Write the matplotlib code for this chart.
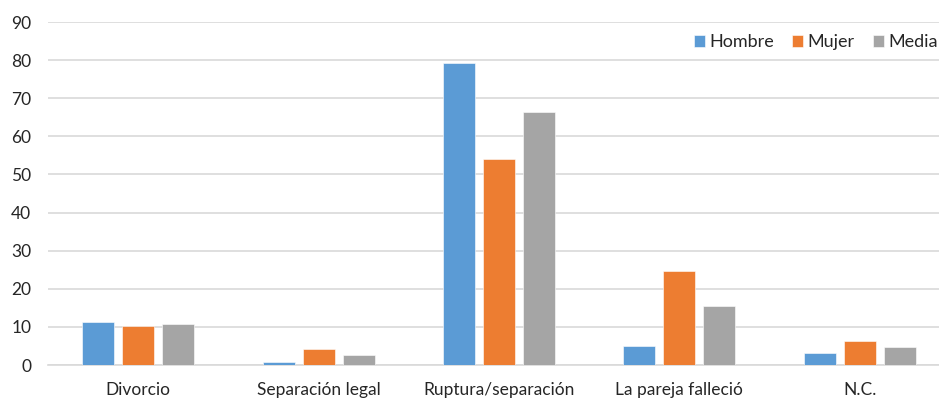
import matplotlib.pyplot as plt
import numpy as np

plt.rcParams['font.family'] = ['Lato', 'DejaVu Sans']

categories = ['Divorcio', 'Separación legal', 'Ruptura/separación', 'La pareja falleció', 'N.C.']
hombre = [11.3, 0.8, 79.3, 5.1, 3.1]
mujer = [10.2, 4.2, 54.0, 24.6, 6.2]
media = [10.7, 2.5, 66.3, 15.5, 4.7]

series = [('Hombre', hombre, '#5B9BD5'),
          ('Mujer', mujer, '#ED7D31'),
          ('Media', media, '#A5A5A5')]

fig = plt.figure(figsize=(9.39, 3.98), dpi=100)
ax = fig.add_axes([0.0511, 0.0829, 0.9606, 0.8618])

x = np.arange(len(categories))
width = 0.177
step = 0.222
for i, (name, vals, color) in enumerate(series):
    ax.bar(x + (i - 1) * step, vals, width, color=color, label=name,
           edgecolor='white', linewidth=0.4, zorder=3)

ax.set_xlim(-0.5, len(categories) - 0.5)
ax.set_ylim(0, 90)
ax.set_yticks(range(0, 91, 10))
ax.set_xticks(x)
ax.set_xticklabels(categories, fontsize=12.5)
ax.grid(axis='y', color='#d9d9d9', linewidth=1.2, zorder=0)
for side in ['top', 'right', 'left']:
    ax.spines[side].set_visible(False)
ax.spines['bottom'].set_color('#d9d9d9')
ax.spines['bottom'].set_linewidth(1.2)
ax.tick_params(axis='both', length=0, labelsize=12.5, colors='#262626')
ax.tick_params(axis='x', pad=12)
ax.tick_params(axis='y', pad=12)

fig.legend(loc='upper right', bbox_to_anchor=(1.016, 0.955), ncol=3, frameon=False,
           fontsize=13, handlelength=0.6, handleheight=0.6, handletextpad=0.25,
           columnspacing=1.0, labelcolor='#262626')

fig.savefig('out.png', dpi=100)
